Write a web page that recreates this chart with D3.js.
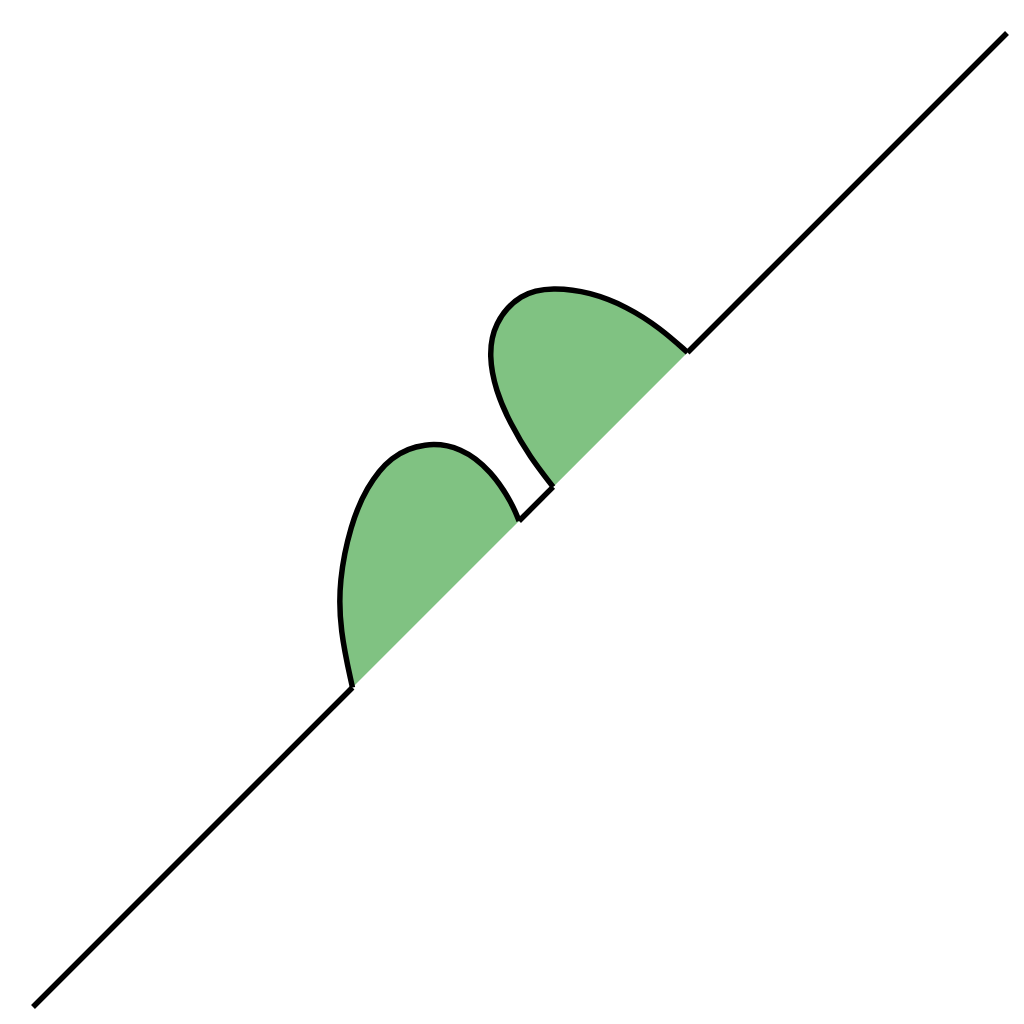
<!DOCTYPE html>
<html>
<head>
<meta charset="utf-8">
<script src="https://cdn.jsdelivr.net/npm/d3@7"></script>
<style>
  body { margin: 0; background: #fff; }
</style>
</head>
<body>
<svg></svg>
<script>
const size = {w: 1024, h: 1024};
const svg = d3.select('svg')
    .attr('width', size.w)
    .attr('height', size.h);

// path pieces, in data units (0..10 on both axes)
const leadIn = [[0, 0], [3.28, 3.28]];
const lobeA = [[3.28, 3.28], [3.15, 3.87], [3.14, 4.38], [3.26, 4.95], [3.42, 5.33],
    [3.67, 5.66], [4.02, 5.80], [4.40, 5.75], [4.71, 5.50], [4.92, 5.17], [4.99, 4.99]];
const bridge = [[4.99, 4.99], [5.34, 5.34]];
const lobeB = [[5.34, 5.34], [5.10, 5.65], [4.90, 5.99], [4.75, 6.33], [4.68, 6.68],
    [4.73, 7.02], [5.00, 7.33], [5.34, 7.39], [5.72, 7.34], [6.10, 7.19], [6.44, 6.97],
    [6.72, 6.72]];
const leadOut = [[6.72, 6.72], [10, 10]];

const x = d3.scaleLinear().domain([0, 10]).range([33, 1007]);
const y = d3.scaleLinear().domain([0, 10]).range([1007, 33]);

const straight = d3.line().x(d => x(d[0])).y(d => y(d[1]));
const smooth = d3.line().x(d => x(d[0])).y(d => y(d[1]))
    .curve(d3.curveBasis);

// green fill of each lobe, closed back along the diagonal
svg.append('g')
    .selectAll('path')
    .data([lobeA, lobeB])
    .join('path')
    .attr('fill', '#80c282')
    .attr('stroke', 'none')
    .attr('d', d => smooth(d) + 'Z');

// outline
const outline = svg.append('g')
    .attr('fill', 'none')
    .attr('stroke', '#000')
    .attr('stroke-width', 5.5)
    .attr('stroke-linejoin', 'miter');

outline.selectAll('path.straight')
    .data([leadIn, bridge, leadOut])
    .join('path')
    .attr('class', 'straight')
    .attr('d', straight);

outline.selectAll('path.lobe')
    .data([lobeA, lobeB])
    .join('path')
    .attr('class', 'lobe')
    .attr('d', smooth);
</script>
</body>
</html>
